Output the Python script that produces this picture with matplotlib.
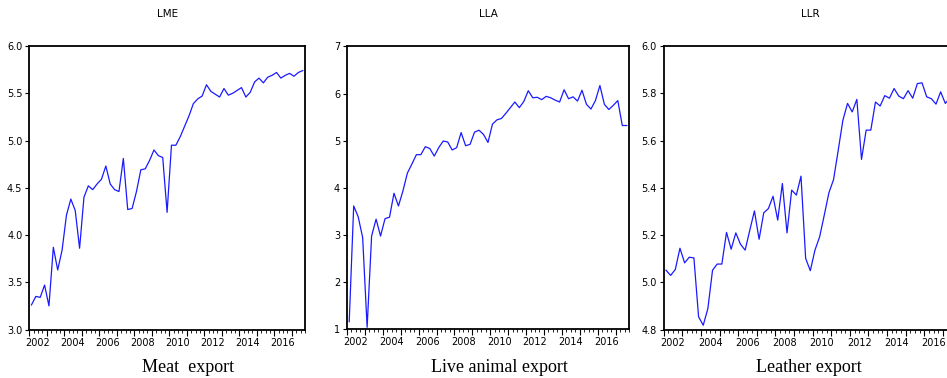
import numpy as np
import matplotlib
matplotlib.use("Agg")
import matplotlib.pyplot as plt
from matplotlib.ticker import FixedLocator, NullFormatter

# quarterly data, 2002Q1 .. 2017Q3
lme = [3.26, 3.35, 3.34, 3.47, 3.25, 3.87, 3.63, 3.84, 4.21, 4.38, 4.26, 3.86,
       4.40, 4.52, 4.48, 4.54, 4.59, 4.73, 4.54, 4.48, 4.46, 4.81, 4.27, 4.28,
       4.46, 4.69, 4.70, 4.79, 4.90, 4.84, 4.82, 4.24, 4.95, 4.95, 5.04, 5.15,
       5.26, 5.39, 5.44, 5.47, 5.59, 5.52, 5.49, 5.46, 5.55, 5.48, 5.50, 5.53,
       5.56, 5.46, 5.51, 5.62, 5.66, 5.61, 5.67, 5.69, 5.72, 5.66, 5.69, 5.71,
       5.68, 5.72, 5.74]
lla = [1.15, 3.61, 3.38, 2.94, 1.03, 2.97, 3.33, 2.97, 3.34, 3.37, 3.88, 3.61,
       3.93, 4.31, 4.50, 4.70, 4.70, 4.87, 4.83, 4.67, 4.85, 4.99, 4.97, 4.80,
       4.85, 5.17, 4.89, 4.92, 5.18, 5.22, 5.13, 4.96, 5.35, 5.44, 5.47, 5.58,
       5.70, 5.82, 5.70, 5.83, 6.06, 5.91, 5.92, 5.87, 5.94, 5.91, 5.86, 5.82,
       6.08, 5.89, 5.93, 5.84, 6.07, 5.77, 5.67, 5.85, 6.17, 5.77, 5.66, 5.75,
       5.85, 5.32, 5.32]
llr = [5.051, 5.029, 5.054, 5.144, 5.082, 5.106, 5.103, 4.854, 4.818, 4.889,
       5.051, 5.077, 5.077, 5.211, 5.140, 5.209, 5.161, 5.136, 5.220, 5.302,
       5.182, 5.294, 5.312, 5.364, 5.263, 5.418, 5.209, 5.390, 5.369, 5.449,
       5.101, 5.049, 5.136, 5.192, 5.284, 5.379, 5.435, 5.559, 5.686, 5.757,
       5.721, 5.774, 5.520, 5.644, 5.644, 5.763, 5.746, 5.790, 5.779, 5.820,
       5.788, 5.777, 5.811, 5.779, 5.841, 5.844, 5.785, 5.777, 5.754, 5.806,
       5.757, 5.780, 5.800]

titles = ["LME", "LLA", "LLR"]
captions = ["Meat  export", "Live animal export", "Leather export"]
yticks = [np.arange(3.0, 6.01, 0.5), np.arange(1, 8, 1), np.arange(4.8, 6.01, 0.2)]
yfmt = ["%.1f", "%d", "%.1f"]
ylims = [(3.0, 6.0), (1, 7), (4.8, 6.0)]
series = [lme, lla, llr]

t = 2002 + (np.arange(len(lme)) + 0.5) / 4
year_labels = list(range(2002, 2017, 2))

small = ['Liberation Sans Narrow', 'DejaVu Sans']

fig = plt.figure(figsize=(9.47, 3.78), dpi=100)
boxes = [[0.0309, 0.1283, 0.2911, 0.75],
         [0.3664, 0.1304, 0.2978, 0.7466],
         [0.7008, 0.1283, 0.3097, 0.75]]
cap_x = [188 / 947, 499 / 947, 809 / 947]

for k in range(3):
    ax = fig.add_axes(boxes[k])
    ax.plot(t, series[k], color='#1a1aff', lw=0.9)
    ax.set_xlim(2002, 2017.75)
    ax.set_ylim(*ylims[k])
    for s in ax.spines.values():
        s.set_linewidth(1.3)
    ax.xaxis.set_major_locator(FixedLocator(np.arange(2002, 2018)))
    ax.xaxis.set_minor_locator(FixedLocator(np.arange(2002, 2017.8, 0.25)))
    ax.xaxis.set_major_formatter(NullFormatter())
    ax.tick_params(axis='x', which='major', length=4, width=0.8, direction='out')
    ax.tick_params(axis='x', which='minor', length=2.2, width=0.6, direction='out')
    ax.set_yticks(yticks[k])
    ax.set_yticklabels([yfmt[k] % v for v in yticks[k]], family=small, fontsize=7)
    ax.tick_params(axis='y', length=3, width=0.8, direction='out', pad=2)

    sec = ax.secondary_xaxis('bottom')
    sec.set_xticks([y + 0.5 for y in year_labels])
    sec.set_xticklabels([str(y) for y in year_labels], family=small, fontsize=7)
    sec.tick_params(length=0, pad=6)
    sec.spines['bottom'].set_visible(False)

    ax.set_title(titles[k], family=small, fontsize=7.5, pad=21)
    fig.text(cap_x[k], 1 - 367 / 378, captions[k], ha='center', va='center',
             family='Liberation Serif', fontsize=13)

fig.savefig("out.png", dpi=100)
